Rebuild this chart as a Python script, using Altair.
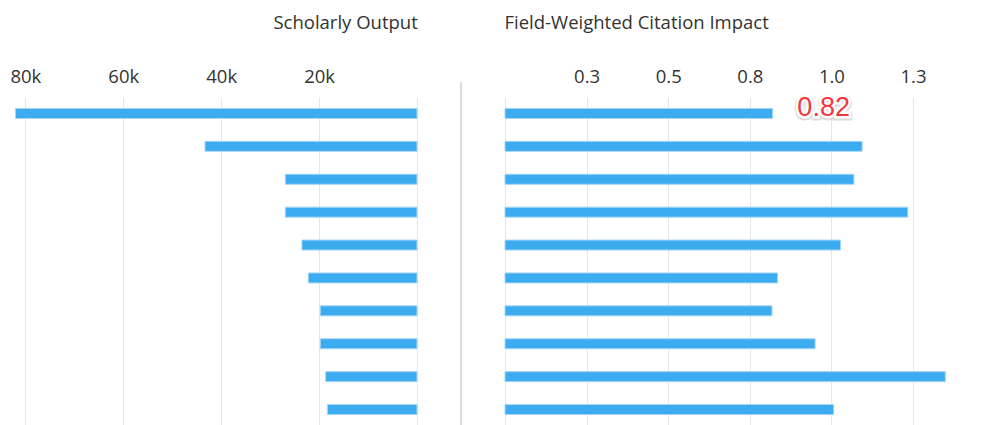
import altair as alt
import pandas as pd

rows = [str(i) for i in range(1, 11)]
scholarly_output = [82000, 43300, 26900, 26900, 23500, 22200, 19750, 19750, 18650, 18300]
fwci = [0.82, 1.094, 1.069, 1.234, 1.028, 0.835, 0.818, 0.950, 1.349, 1.007]
so_ticks = [0, 20000, 40000, 60000, 80000]
fwci_ticks = [0, 0.25, 0.5, 0.75, 1.0, 1.25]
highlight_row = "1"
highlight_label = "0.82"

df = pd.DataFrame({"row": rows, "output": scholarly_output, "fwci": fwci})
hl = pd.DataFrame({"row": [highlight_row], "fwci": [fwci[0]], "label": [highlight_label]})
sep = pd.DataFrame({"a": [0]})

H = 329
LW = 453
RW = 470
FONT = "Open Sans"
bar_color = "#3dabf0"
bar_stroke = "#a3d6f8"
grid_color = "#e6e6e6"
label_color = "#333333"

y_enc = alt.Y("row:N", sort=None, axis=None,
              scale=alt.Scale(paddingInner=0, paddingOuter=0))

left_bars = alt.Chart(df).mark_bar(size=10, color=bar_color, stroke=bar_stroke, strokeWidth=1).encode(
    x=alt.X("output:Q",
            scale=alt.Scale(domain=[-8990, 83540], reverse=True, nice=False),
            axis=alt.Axis(orient="top", values=so_ticks,
                          labelExpr="datum.value == 0 ? '' : (datum.value / 1000) + 'k'",
                          title=None, ticks=False, domain=False, grid=True,
                          gridColor=grid_color, labelFontSize=18.5, labelPadding=11,
                          labelColor=label_color, labelFont=FONT)),
    y=y_enc,
)
separator = alt.Chart(sep).mark_rule(color="#d0d0d0", strokeWidth=1.5).encode(
    x=alt.value(LW), y=alt.value(-15), y2=alt.value(H + 5)
)
left = alt.layer(left_bars, separator).properties(
    width=LW, height=H,
    title=alt.TitleParams("Scholarly Output", anchor="end", dx=-44),
)

right_bars = alt.Chart(df).mark_bar(size=10, color=bar_color, stroke=bar_stroke, strokeWidth=1).encode(
    x=alt.X("fwci:Q",
            scale=alt.Scale(domain=[0, RW / 326.4], nice=False),
            axis=alt.Axis(orient="top", values=fwci_ticks, format=".1f",
                          labelExpr="datum.value == 0 ? '' : datum.label",
                          title=None, ticks=False, domain=False, grid=True,
                          gridColor=grid_color, labelFontSize=18.5, labelPadding=11,
                          labelColor=label_color, labelFont=FONT)),
    y=y_enc,
)
text_common = dict(font="Liberation Sans", fontSize=27, align="center", baseline="middle", dx=51)
shadow = alt.Chart(hl).mark_text(
    dy=-4, stroke="#999999", strokeWidth=7, strokeOpacity=0.35, fill="#999999", **text_common
).encode(x="fwci:Q", y=alt.Y("row:N", sort=None), text="label:N")
outline = alt.Chart(hl).mark_text(
    dy=-5.5, stroke="white", strokeWidth=5, fill="white", **text_common
).encode(x="fwci:Q", y=alt.Y("row:N", sort=None), text="label:N")
label = alt.Chart(hl).mark_text(
    dy=-5.5, fill="#f2383d", **text_common
).encode(x="fwci:Q", y=alt.Y("row:N", sort=None), text="label:N")

right = alt.layer(right_bars, shadow, outline, label).properties(
    width=RW, height=H,
    title=alt.TitleParams("Field-Weighted Citation Impact", anchor="start"),
)

chart = alt.hconcat(left, right, spacing=44, bounds="flush").properties(
    padding={"top": 5, "left": 0, "right": 0, "bottom": 0}
).configure_view(stroke=None).configure_title(
    font=FONT, fontSize=18.5, fontWeight="normal", color=label_color, offset=35
)

chart.save("out.html", embed_options={"renderer": "svg", "actions": False})
